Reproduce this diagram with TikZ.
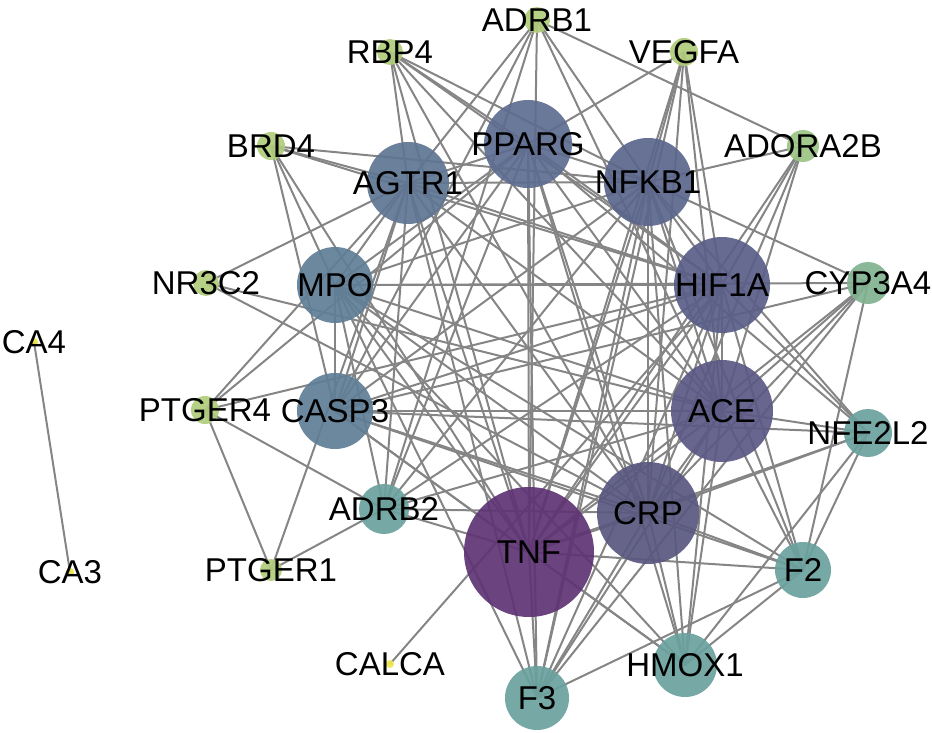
\documentclass[tikz,border=0pt]{standalone}
\usepackage{fontspec}
\setmainfont{Liberation Sans}
\usepackage{tikz}
\usetikzlibrary{backgrounds}

\definecolor{colTNF}{HTML}{5E3373}
\definecolor{colCRP}{HTML}{59587F}
\definecolor{colACE}{HTML}{5B5884}
\definecolor{colHIF}{HTML}{5A5E88}
\definecolor{colNFKB}{HTML}{5A668C}
\definecolor{colPPARG}{HTML}{5D6C90}
\definecolor{colAGTR}{HTML}{5E7592}
\definecolor{colMPO}{HTML}{5F7E96}
\definecolor{colTeal}{HTML}{6AA19E}
\definecolor{colCYP}{HTML}{80B290}
\definecolor{colADORA}{HTML}{9CC486}
\definecolor{colGreen}{HTML}{B0CD7B}
\definecolor{colYellow}{HTML}{EEE64B}
\definecolor{linkgray}{HTML}{858585}

\tikzset{
  gene/.style={circle, draw=none, fill=#1, fill opacity=0.92, inner sep=0pt},
  every label/.style={font=\fontsize{16.5}{19}\selectfont, text=black, inner sep=0pt},
  link/.style={draw=linkgray, line width=1pt}
}

\begin{document}
\begin{tikzpicture}[x=0.5pt, y=-0.5pt]
      \useasboundingbox (0,0) rectangle (932,733);

      % Hub genes
      \node[gene=colTNF, minimum size=65pt, label={center:TNF}] (TNF) at (529,552) {};
      \node[gene=colCRP, minimum size=51pt, label={center:CRP}] (CRP) at (648,513) {};
      \node[gene=colACE, minimum size=51pt, label={center:ACE}] (ACE) at (722,411) {};
      \node[gene=colHIF, minimum size=48pt, label={center:HIF1A}] (HIF1A) at (722,285) {};
      \node[gene=colNFKB, minimum size=44pt, label={center:NFKB1}] (NFKB1) at (648,182) {};
      \node[gene=colPPARG, minimum size=44pt, label={center:PPARG}] (PPARG) at (528,144) {};
      \node[gene=colAGTR, minimum size=41pt, label={center:AGTR1}] (AGTR1) at (408,183) {};
      \node[gene=colMPO, minimum size=38pt, label={center:MPO}] (MPO) at (335,285) {};
      \node[gene=colMPO, minimum size=38pt, label={center:CASP3}] (CASP3) at (335,411) {};

      % Middle genes
      \node[gene=colTeal, minimum size=25pt, label={center:ADRB2}] (ADRB2) at (384,509) {};
      \node[gene=colTeal, minimum size=32pt, label={center:F3}] (F3) at (537,698) {};
      \node[gene=colTeal, minimum size=32pt, label={center:HMOX1}] (HMOX1) at (685,665) {};
      \node[gene=colTeal, minimum size=28pt, label={center:F2}] (F2) at (803,570) {};
      \node[gene=colTeal, minimum size=24pt, label={center:NFE2L2}] (NFE2L2) at (868,433) {};
      \node[gene=colCYP, minimum size=21pt, label={center:CYP3A4}] (CYP3A4) at (868,283) {};
      \node[gene=colADORA, minimum size=16pt, label={center:ADORA2B}] (ADORA2B) at (803,146) {};

      % Outer genes
      \node[gene=colGreen, minimum size=14pt, label={center:VEGFA}] (VEGFA) at (684,52) {};
      \node[gene=colGreen, minimum size=13pt, label={center:ADRB1}] (ADRB1) at (537,20) {};
      \node[gene=colGreen, minimum size=13pt, label={center:RBP4}] (RBP4) at (390,52) {};
      \node[gene=colGreen, minimum size=14pt, label={center:BRD4}] (BRD4) at (271,146) {};
      \node[gene=colGreen, minimum size=13pt, label={center:NR3C2}] (NR3C2) at (206,283) {};
      \node[gene=colGreen, minimum size=14pt, label={center:PTGER4}] (PTGER4) at (205,410) {};
      \node[gene=colGreen, minimum size=11pt, label={center:PTGER1}] (PTGER1) at (271,570) {};
      \node[gene=colYellow, minimum size=4pt, label={center:CALCA}] (CALCA) at (390,664) {};
      \node[gene=colYellow, minimum size=4pt, label={center:CA4}] (CA4) at (34,342) {};
      \node[gene=colYellow, minimum size=4pt, label={center:CA3}] (CA3) at (70,572) {};

      % Interactions
      \begin{scope}[on background layer]
        \foreach \a/\b in {TNF/CRP, TNF/ACE, TNF/HIF1A, TNF/NFKB1, TNF/PPARG, TNF/AGTR1,
            TNF/MPO, TNF/CASP3, CRP/ACE, CRP/HIF1A, CRP/NFKB1, CRP/PPARG, CRP/AGTR1,
            CRP/MPO, CRP/CASP3, ACE/HIF1A, ACE/NFKB1, ACE/PPARG, ACE/AGTR1, ACE/MPO,
            ACE/CASP3, HIF1A/NFKB1, HIF1A/PPARG, HIF1A/AGTR1, HIF1A/MPO, HIF1A/CASP3,
            NFKB1/PPARG, NFKB1/AGTR1, NFKB1/MPO, NFKB1/CASP3, PPARG/AGTR1, PPARG/MPO,
            PPARG/CASP3, AGTR1/MPO, AGTR1/CASP3, MPO/CASP3}
          \draw[link] (\a.center) -- (\b.center);
        \foreach \a/\b in {ADRB2/TNF, ADRB2/CRP, ADRB2/ACE, ADRB2/HIF1A, ADRB2/NFKB1,
            ADRB2/AGTR1, ADRB2/MPO, ADRB2/PPARG, ADRB2/PTGER1, ADRB2/PTGER4, ADRB2/ADRB1,
            F2/TNF, F2/CRP, F2/ACE, F2/HIF1A, F2/NFKB1, F2/MPO, F2/CASP3, F2/NFE2L2,
            F2/CYP3A4, F2/F3, F2/HMOX1,
            NFE2L2/TNF, NFE2L2/CRP, NFE2L2/ACE, NFE2L2/HIF1A, NFE2L2/NFKB1,
            NFE2L2/PPARG, NFE2L2/CASP3, NFE2L2/HMOX1,
            HMOX1/TNF, HMOX1/CRP, HMOX1/ACE, HMOX1/HIF1A, HMOX1/NFKB1, HMOX1/PPARG,
            HMOX1/MPO, HMOX1/CASP3,
            F3/TNF, F3/CRP, F3/ACE, F3/HIF1A, F3/NFKB1, F3/PPARG, F3/AGTR1, F3/MPO,
            F3/VEGFA, F3/CYP3A4}
          \draw[link] (\a.center) -- (\b.center);
        \foreach \a/\b in {CYP3A4/NFKB1, CYP3A4/CASP3, CYP3A4/ACE, CYP3A4/CRP,
            CYP3A4/TNF, CYP3A4/MPO,
            ADORA2B/NFKB1, ADORA2B/HIF1A, ADORA2B/ACE, ADORA2B/CRP, ADORA2B/TNF,
            ADORA2B/ADRB1,
            RBP4/PPARG, RBP4/AGTR1, RBP4/TNF, RBP4/CRP, RBP4/ACE, RBP4/HIF1A, RBP4/NFKB1,
            ADRB1/AGTR1, ADRB1/TNF, ADRB1/NFKB1, ADRB1/ACE, ADRB1/CASP3,
            VEGFA/NFKB1, VEGFA/TNF, VEGFA/HIF1A, VEGFA/CRP, VEGFA/ACE, VEGFA/PPARG,
            BRD4/NFKB1, BRD4/HIF1A, BRD4/MPO, BRD4/TNF, BRD4/CASP3, BRD4/AGTR1,
            NR3C2/AGTR1, NR3C2/ACE, NR3C2/CRP,
            PTGER4/PTGER1, PTGER4/AGTR1, PTGER4/HIF1A, PTGER4/PPARG,
            PTGER1/AGTR1, CALCA/HIF1A, CA4/CA3}
          \draw[link] (\a.center) -- (\b.center);
      \end{scope}
    \end{tikzpicture}
\end{document}
